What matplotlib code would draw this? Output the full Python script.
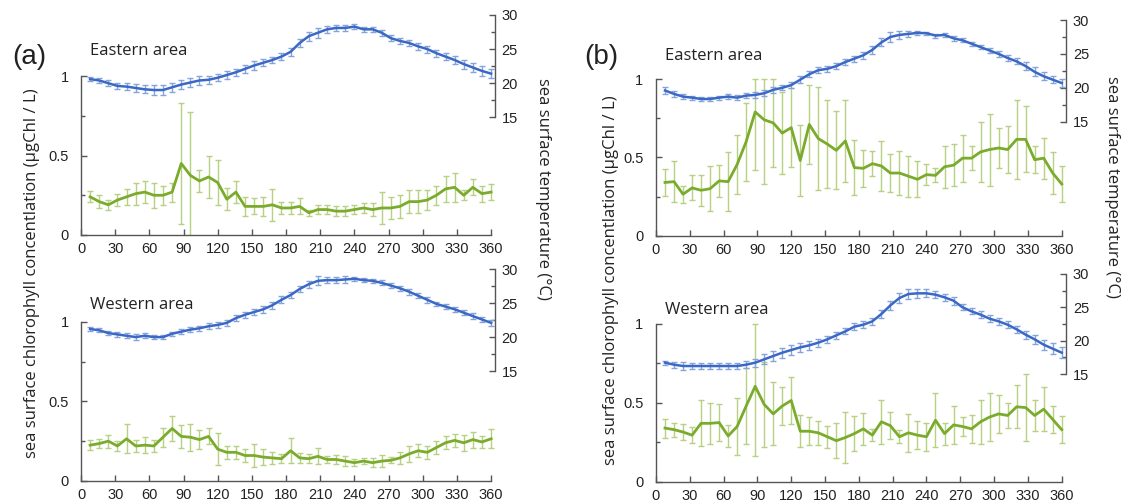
import matplotlib.pyplot as plt
from matplotlib.ticker import FixedLocator

# 8-day composite periods (day of year)
days = list(range(8, 361, 8))

# (a) Eastern area
a_east_sst = [20.6, 20.4, 20.0, 19.6, 19.5, 19.3, 19.1, 19.0, 19.0, 19.4, 19.8, 20.1, 20.4, 20.5, 20.8,
              21.2, 21.6, 22.1, 22.6, 23.0, 23.4, 23.9, 24.6, 25.9, 26.9, 27.4, 27.9, 28.1, 28.1, 28.3,
              27.9, 27.9, 27.4, 26.6, 26.2, 25.9, 25.4, 25.0, 24.4, 23.9, 23.4, 22.8, 22.3, 21.8, 21.4]
a_east_sst_err = [0.35, 0.35, 0.4, 0.45, 0.5, 0.55, 0.6, 0.7, 0.75, 0.7, 0.7, 0.65, 0.6, 0.55, 0.55,
                  0.6, 0.55, 0.55, 0.6, 0.55, 0.5, 0.55, 0.6, 0.6, 0.65, 0.7, 0.55, 0.45, 0.45, 0.35,
                  0.35, 0.35, 0.45, 0.45, 0.5, 0.45, 0.5, 0.5, 0.5, 0.55, 0.6, 0.65, 0.7, 0.7, 0.65]
a_east_chl = [0.24, 0.21, 0.19, 0.22, 0.24, 0.26, 0.27, 0.25, 0.25, 0.27, 0.45, 0.375, 0.34, 0.365, 0.33,
              0.225, 0.27, 0.18, 0.18, 0.18, 0.19, 0.17, 0.17, 0.18, 0.14, 0.16, 0.16, 0.15, 0.15, 0.16,
              0.17, 0.16, 0.17, 0.17, 0.18, 0.21, 0.21, 0.22, 0.25, 0.29, 0.30, 0.25, 0.30, 0.26, 0.27]
a_east_chl_err = [0.035, 0.04, 0.03, 0.04, 0.05, 0.07, 0.07, 0.08, 0.06, 0.06, 0.38, 0.40, 0.07, 0.13, 0.14,
                  0.07, 0.07, 0.06, 0.05, 0.06, 0.10, 0.04, 0.04, 0.05, 0.02, 0.03, 0.03, 0.03, 0.03, 0.03,
                  0.03, 0.04, 0.10, 0.07, 0.07, 0.07, 0.07, 0.06, 0.06, 0.08, 0.09, 0.03, 0.05, 0.05, 0.05]

# (a) Western area
a_west_sst = [21.2, 21.0, 20.6, 20.4, 20.2, 20.0, 20.2, 20.0, 20.0, 20.5, 20.8, 21.1, 21.3, 21.6, 21.8,
              22.1, 22.8, 23.3, 23.7, 24.1, 24.7, 25.5, 26.2, 27.1, 27.8, 28.3, 28.4, 28.4, 28.5, 28.6,
              28.4, 28.3, 28.0, 27.6, 27.2, 26.7, 26.1, 25.5, 24.9, 24.5, 24.1, 23.6, 23.1, 22.6, 22.1]
a_west_sst_err = [0.35, 0.3, 0.3, 0.35, 0.35, 0.4, 0.35, 0.35, 0.35, 0.3, 0.35, 0.4, 0.4, 0.45, 0.4,
                  0.45, 0.45, 0.45, 0.5, 0.5, 0.5, 0.5, 0.45, 0.5, 0.5, 0.65, 0.45, 0.45, 0.45, 0.3,
                  0.3, 0.3, 0.35, 0.4, 0.4, 0.45, 0.4, 0.4, 0.35, 0.35, 0.35, 0.35, 0.4, 0.4, 0.4]
a_west_chl = [0.225, 0.235, 0.25, 0.22, 0.265, 0.22, 0.225, 0.22, 0.275, 0.33, 0.28, 0.275, 0.26, 0.28, 0.20,
              0.18, 0.18, 0.16, 0.16, 0.15, 0.145, 0.14, 0.19, 0.145, 0.14, 0.155, 0.135, 0.135, 0.125, 0.115,
              0.125, 0.115, 0.125, 0.13, 0.145, 0.17, 0.19, 0.18, 0.21, 0.24, 0.255, 0.24, 0.26, 0.245, 0.265]
a_west_chl_err = [0.03, 0.03, 0.04, 0.03, 0.09, 0.04, 0.05, 0.04, 0.06, 0.08, 0.07, 0.085, 0.06, 0.05, 0.10,
                  0.04, 0.04, 0.04, 0.07, 0.05, 0.04, 0.03, 0.08, 0.03, 0.03, 0.05, 0.02, 0.03, 0.03, 0.02,
                  0.02, 0.03, 0.04, 0.02, 0.04, 0.05, 0.04, 0.04, 0.04, 0.04, 0.04, 0.05, 0.05, 0.04, 0.06]

# (b) Eastern area
b_east_sst = [19.6, 19.1, 18.7, 18.55, 18.35, 18.35, 18.55, 18.7, 18.55, 18.85, 18.95, 19.2, 19.7, 20.0, 20.4,
              21.2, 22.0, 22.6, 22.8, 23.2, 23.8, 24.3, 24.8, 25.6, 26.7, 27.5, 27.8, 27.95, 28.1, 28.05,
              27.7, 27.8, 27.3, 27.0, 26.5, 26.0, 25.5, 25.0, 24.4, 23.9, 23.2, 22.35, 21.7, 21.2, 20.7]
b_east_sst_err = [0.5, 0.45, 0.35, 0.3, 0.3, 0.3, 0.3, 0.35, 0.35, 0.4, 0.4, 0.45, 0.4, 0.35, 0.4,
                  0.5, 0.45, 0.45, 0.45, 0.45, 0.45, 0.45, 0.5, 0.55, 0.6, 0.7, 0.65, 0.5, 0.25, 0.2,
                  0.3, 0.3, 0.35, 0.3, 0.3, 0.35, 0.4, 0.4, 0.45, 0.45, 0.55, 0.65, 0.6, 0.55, 0.55]
b_east_chl = [0.34, 0.345, 0.265, 0.305, 0.29, 0.30, 0.35, 0.345, 0.455, 0.60, 0.79, 0.74, 0.72, 0.655, 0.69,
              0.48, 0.71, 0.62, 0.585, 0.545, 0.605, 0.435, 0.43, 0.46, 0.445, 0.40, 0.40, 0.38, 0.36, 0.39,
              0.385, 0.44, 0.45, 0.495, 0.495, 0.535, 0.55, 0.56, 0.55, 0.615, 0.615, 0.485, 0.495, 0.40, 0.33]
b_east_chl_err = [0.085, 0.13, 0.055, 0.08, 0.10, 0.145, 0.10, 0.19, 0.19, 0.25, 0.37, 0.41, 0.28, 0.26, 0.25,
                  0.225, 0.25, 0.33, 0.28, 0.25, 0.26, 0.175, 0.12, 0.08, 0.16, 0.12, 0.14, 0.13, 0.115, 0.065,
                  0.045, 0.135, 0.135, 0.15, 0.075, 0.19, 0.23, 0.13, 0.15, 0.25, 0.21, 0.085, 0.13, 0.135, 0.115]

# (b) Western area
b_west_sst = [16.7, 16.4, 16.2, 16.2, 16.2, 16.2, 16.2, 16.2, 16.2, 16.4, 16.7, 17.2, 17.7, 18.2, 18.6,
              19.0, 19.3, 19.7, 20.2, 20.8, 21.4, 22.1, 22.4, 22.9, 24.0, 25.3, 26.4, 27.0, 27.1, 27.1,
              26.9, 26.5, 26.0, 25.0, 24.4, 23.9, 23.3, 22.9, 22.4, 21.7, 20.9, 20.2, 19.4, 18.8, 18.2]
b_west_sst_err = [0.3, 0.45, 0.55, 0.5, 0.45, 0.45, 0.45, 0.45, 0.5, 0.55, 0.6, 0.75, 0.8, 0.75, 0.7,
                  0.65, 0.7, 0.6, 0.5, 0.5, 0.45, 0.5, 0.5, 0.55, 0.6, 0.65, 0.7, 0.75, 0.7, 0.6,
                  0.55, 0.55, 0.6, 0.45, 0.45, 0.55, 0.55, 0.5, 0.55, 0.55, 0.6, 0.7, 0.75, 0.8, 0.85]
b_west_chl = [0.34, 0.33, 0.315, 0.295, 0.37, 0.37, 0.375, 0.29, 0.35, 0.48, 0.605, 0.49, 0.43, 0.48, 0.515,
              0.32, 0.32, 0.31, 0.285, 0.26, 0.28, 0.305, 0.335, 0.295, 0.38, 0.355, 0.285, 0.31, 0.295, 0.285,
              0.39, 0.305, 0.36, 0.35, 0.335, 0.38, 0.41, 0.43, 0.42, 0.475, 0.47, 0.42, 0.46, 0.395, 0.33]
b_west_chl_err = [0.06, 0.045, 0.05, 0.05, 0.145, 0.13, 0.12, 0.07, 0.18, 0.24, 0.44, 0.27, 0.2, 0.12, 0.15,
                  0.10, 0.09, 0.075, 0.07, 0.11, 0.16, 0.11, 0.10, 0.04, 0.14, 0.085, 0.04, 0.12, 0.09, 0.09,
                  0.17, 0.07, 0.12, 0.06, 0.09, 0.14, 0.15, 0.12, 0.08, 0.135, 0.21, 0.10, 0.14, 0.085, 0.085]

sst_color = '#3a68c4'
sst_err_color = '#86a4dc'
chl_color = '#7aab2c'
chl_err_color = '#b7d183'
axis_color = '#555555'
text_color = '#222222'

W, H = 1127, 504
fig = plt.figure(figsize=(W / 100, H / 100), dpi=100)


def draw_panel(rect, chl_top, sst_bottom, xmax, title, chl, chl_err, sst, sst_err):
    # rect is (left, top, right, bottom) in pixels
    l, t, r, b = rect
    ax = fig.add_axes([l / W, 1 - b / H, (r - l) / W, (b - t) / H])
    ax2 = ax.twinx()

    # chlorophyll error bars stop at the top of the left scale (1.0)
    upper = [min(e, 1.0 - v) for v, e in zip(chl, chl_err)]
    ax.errorbar(days, chl, yerr=[chl_err, upper], fmt='none', ecolor=chl_err_color,
                elinewidth=1.0, capsize=2.2, capthick=1.0, zorder=2)
    ax.plot(days, chl, color=chl_color, lw=2.0, zorder=3)

    ax2.errorbar(days, sst, yerr=sst_err, fmt='none', ecolor=sst_err_color,
                 elinewidth=1.0, capsize=2.2, capthick=1.0, zorder=2)
    ax2.plot(days, sst, color=sst_color, lw=1.8, zorder=3)

    ax.set_xlim(0, xmax)
    ax.set_ylim(0, chl_top)
    ax2.set_ylim(sst_bottom, 30)

    ax.set_xticks(range(0, 361, 30))
    ax.set_yticks([0, 0.5, 1])
    ax.set_yticklabels(['0', '0.5', '1'])
    ax.yaxis.set_minor_locator(FixedLocator([0.25, 0.75]))
    ax2.set_yticks([15, 20, 25, 30])
    ax2.yaxis.set_minor_locator(FixedLocator([17.5, 22.5, 27.5]))

    for a in (ax, ax2):
        a.patch.set_visible(False)
        a.spines['top'].set_visible(False)
        for s in a.spines.values():
            s.set_color(axis_color)
            s.set_linewidth(1.0)
    ax.spines['right'].set_visible(False)
    ax2.spines['left'].set_visible(False)
    ax2.spines['bottom'].set_visible(False)
    ax.spines['left'].set_bounds(0, 1)
    ax.spines['bottom'].set_bounds(0, 360)
    ax2.spines['right'].set_bounds(15, 30)

    ax.tick_params(axis='both', which='major', direction='in', length=4, width=1,
                   color=axis_color, labelsize=10.5, labelcolor=text_color, pad=5)
    ax.tick_params(axis='y', which='minor', direction='in', length=3, width=1, color=axis_color)
    ax.tick_params(axis='y', which='major', pad=9)
    ax2.tick_params(axis='y', which='major', direction='in', length=4, width=1,
                    color=axis_color, labelsize=10.5, labelcolor=text_color, pad=5)
    ax2.tick_params(axis='y', which='minor', direction='in', length=3, width=1, color=axis_color)
    for lab in ax.get_xticklabels() + ax.get_yticklabels() + ax2.get_yticklabels():
        lab.set_family('Liberation Sans')

    fig.text((l + 9) / W, 1 - (t + 40) / H, title, family='Open Sans', fontsize=12,
             color=text_color, va='baseline', ha='left')
    return ax, ax2


draw_panel((81, 15, 494.5, 235), 1.384, -2.26, 363.0, 'Eastern area',
           a_east_chl, a_east_chl_err, a_east_sst, a_east_sst_err)
draw_panel((81, 269.3, 494.5, 481), 1.329, -1.22, 363.0, 'Western area',
           a_west_chl, a_west_chl_err, a_west_sst, a_west_sst_err)
draw_panel((656, 20, 1066, 235.7), 1.377, -1.81, 363.8, 'Eastern area',
           b_east_chl, b_east_chl_err, b_east_sst, b_east_sst_err)
draw_panel((656, 274, 1066, 481.7), 1.317, -1.15, 363.8, 'Western area',
           b_west_chl, b_west_chl_err, b_west_sst, b_west_sst_err)

# panel letters
fig.text(29 / W, 1 - 57 / H, '(a)', family='Liberation Sans', fontsize=20,
         color=text_color, ha='center', va='center')
fig.text(601 / W, 1 - 57 / H, '(b)', family='Liberation Sans', fontsize=20,
         color=text_color, ha='center', va='center')

# shared axis titles
chl_label = 'sea surface chlorophyll concentlation (μgChl / L)'
sst_label = 'sea surface temperature (°C)'
for x, y in ((32.5, 273), (611, 280)):
    fig.text(x / W, 1 - y / H, chl_label, family='Open Sans', fontsize=12,
             color=text_color, rotation=90, ha='center', va='center')
for x, y in ((543, 189), (1111.5, 187)):
    fig.text(x / W, 1 - y / H, sst_label, family='Open Sans', fontsize=12,
             color=text_color, rotation=270, ha='center', va='center')

fig.savefig('out.png', dpi=100)
